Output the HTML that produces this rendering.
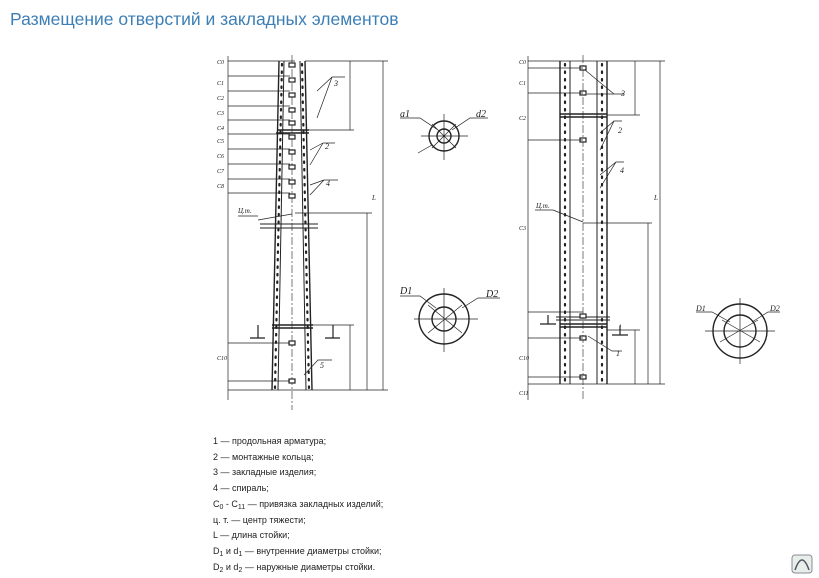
<!DOCTYPE html>
<html><head><meta charset="utf-8"><style>
body{margin:0;background:#fff;width:819px;height:578px;overflow:hidden;position:relative;font-family:"Liberation Sans",sans-serif}
.t{position:absolute;left:10px;top:9px;font-size:17.5px;color:#3d7fb5}
.leg{position:absolute;left:213px;top:434px;font-size:9px;color:#222;line-height:15.7px}
sub{font-size:7px;vertical-align:-2px;line-height:0}
svg{position:absolute;left:0;top:0}
</style></head><body>
<div class="t">Размещение отверстий и закладных элементов</div>
<div class="leg">1 — продольная арматура;<br>2 — монтажные кольца;<br>3 — закладные изделия;<br>4 — спираль;<br>С<sub>0</sub> - С<sub>11</sub> — привязка закладных изделий;<br>ц. т. — центр тяжести;<br>L — длина стойки;<br>D<sub>1</sub> и d<sub>1</sub> — внутренние диаметры стойки;<br>D<sub>2</sub> и d<sub>2</sub> — наружные диаметры стойки.</div>
<svg width="819" height="578" viewBox="0 0 819 578" fill="none" stroke="#222" stroke-width="1" font-family="Liberation Serif" font-style="italic" font-size="8">
<!-- LEFT POLE -->
<g stroke-width="1.4">
<path d="M279 61 L272 390 M305 61 L312 390"/>
<path d="M284 61 L278 390 M300 61 L306 390" stroke-width="1"/>
</g>
<g stroke-width="2.2" stroke-dasharray="1.5 6" stroke-linecap="round">
<path d="M282 64 L275 388 M302 64 L309 388"/>
</g>
<path d="M292 55 L292 410" stroke-width="0.6" stroke-dasharray="8 2 2 2"/>
<path d="M277 130 H309 M276 133 H309 M272 325 H313 M272 328 H313" stroke-width="1.4"/>
<path d="M260 224 H318 M260 228 H318" stroke-width="1"/>
<g fill="#fff" stroke-width="1.2">
<rect x="289" y="63" width="6" height="4"/><rect x="289" y="78" width="6" height="4"/><rect x="289" y="93" width="6" height="4"/><rect x="289" y="108" width="6" height="4"/><rect x="289" y="121" width="6" height="4"/>
<rect x="289" y="135" width="6" height="4"/><rect x="289" y="150" width="6" height="4"/><rect x="289" y="165" width="6" height="4"/><rect x="289" y="180" width="6" height="4"/><rect x="289" y="194" width="6" height="4"/>
<rect x="289" y="341" width="6" height="4"/><rect x="289" y="379" width="6" height="4"/>
</g>
<g stroke-width="0.7">
<path d="M228 61 H295 M228 76 H290 M228 91 H290 M228 106 H290 M228 120 H290 M228 134 H290 M228 149 H290 M228 164 H290 M228 179 H290 M228 193 H290 M228 343 H290 M228 381 H290 M228 390 H312"/>
<path d="M228 56 V400"/>
<path d="M305 61 H388 M305 130 H354 M350 61 V130 M295 213 H372 M367 213 V390 M383 61 V390 M312 325 H354 M350 325 V390 M312 390 H388"/>
<path d="M317 91 L332 77 M317 118 L332 77 M332 77 H345 M310 150 L323 143 M310 165 L323 143 M323 143 H335 M310 185 L324 180 M310 195 L324 180 M324 180 H338 M304 375 L318 360 H332 M258 220 L292 214 M238 216 H258"/>
<path d="M250 338 H265 M258 325 V338 M325 338 H340 M333 325 V338" stroke-width="1.2"/>
</g>
<g fill="#222" stroke="none">
<text x="334" y="86">3</text><text x="325" y="149">2</text><text x="326" y="186">4</text><text x="320" y="368">5</text>
<text x="238" y="213" font-size="7">Ц.т.</text>
<text x="372" y="200" font-size="7">L</text>
<text x="217" y="64" font-size="6">C0</text><text x="217" y="85" font-size="6">C1</text><text x="217" y="100" font-size="6">C2</text><text x="217" y="115" font-size="6">C3</text><text x="217" y="130" font-size="6">C4</text><text x="217" y="143" font-size="6">C5</text><text x="217" y="158" font-size="6">C6</text><text x="217" y="173" font-size="6">C7</text><text x="217" y="188" font-size="6">C8</text><text x="217" y="360" font-size="6">C10</text>
</g>
<!-- SMALL CIRCLES -->
<g stroke-width="1.4">
<circle cx="444" cy="136" r="15"/><circle cx="444" cy="136" r="7"/>
<circle cx="444" cy="319" r="25"/><circle cx="444" cy="319" r="12"/>
<circle cx="740" cy="331" r="27"/><circle cx="740" cy="331" r="16"/>
</g>
<g stroke-width="0.7">
<path d="M444 114 V160 M421 136 H468 M432 124 L456 148 M456 124 L432 148 M400 118 H420 L438 130 M488 118 H470 L452 130 M418 153 L432 145"/>
<path d="M444 288 V352 M414 319 H478 M428 305 L462 333 M462 305 L428 333 M400 296 H420 L436 308 M500 298 H478 L462 308"/>
<path d="M740 298 V364 M705 331 H775 M722 320 L760 342 M758 320 L720 342 M696 312 H712 L730 322 M780 312 H768 L752 322"/>
</g>
<g fill="#222" stroke="none" font-size="10">
<text x="400" y="117">a1</text><text x="476" y="117">d2</text>
<text x="400" y="294">D1</text><text x="486" y="297">D2</text>
<text x="696" y="311" font-size="8">D1</text><text x="770" y="311" font-size="8">D2</text>
</g>
<!-- RIGHT POLE -->
<g stroke-width="1.4"><path d="M560 61 V384 M607 61 V384"/></g>
<path d="M570 61 V384 M597 61 V384" stroke-width="1"/>
<g stroke-width="2.2" stroke-dasharray="1.5 6" stroke-linecap="round"><path d="M565 64 V382 M602 64 V382"/></g>
<path d="M583 55 V400" stroke-width="0.6" stroke-dasharray="8 2 2 2"/>
<path d="M560 114 H607 M560 117 H607 M560 324 H607 M560 327 H607" stroke-width="1.4"/>
<path d="M556 317 H610 M556 320 H610" stroke-width="1"/>
<g fill="#fff" stroke-width="1.2">
<rect x="580" y="66" width="6" height="4"/><rect x="580" y="91" width="6" height="4"/><rect x="580" y="138" width="6" height="4"/><rect x="580" y="314" width="6" height="4"/><rect x="580" y="336" width="6" height="4"/><rect x="580" y="375" width="6" height="4"/>
</g>
<g stroke-width="0.7">
<path d="M528 61 H665 M528 68 H583 M528 93 H583 M528 140 H583 M528 312 H583 M528 338 H583 M528 377 H583 M528 384 H665 M528 56 V400"/>
<path d="M607 115 H640 M635 61 V115 M583 223 H652 M648 223 V384 M660 61 V384 M607 330 H640 M635 330 V384"/>
<path d="M585 70 L614 94 M587 94 L614 94 H624 M600 133 L614 121 M600 150 L614 121 H622 M600 175 L616 162 M600 188 L616 162 H624 M553 210 L583 222 M535 210 H553 M588 336 L612 351 H622"/>
<path d="M540 324 H556 M548 315 V324 M612 335 H628 M620 326 V335" stroke-width="1.2"/>
</g>
<g fill="#222" stroke="none">
<text x="621" y="96">3</text><text x="618" y="133">2</text><text x="620" y="173">4</text><text x="616" y="356">1</text><text x="618" y="330">1</text>
<text x="536" y="208" font-size="7">Ц.т.</text><text x="654" y="200" font-size="7">L</text>
<text x="519" y="64" font-size="6">C0</text><text x="519" y="85" font-size="6">C1</text><text x="519" y="120" font-size="6">C2</text><text x="519" y="230" font-size="6">C3</text><text x="519" y="360" font-size="6">C10</text><text x="519" y="395" font-size="6">C11</text>
</g>
<!-- logo -->
<rect x="792" y="555" width="20" height="18" rx="3" fill="#e8eee8" stroke="#889"/>
<path d="M795 570 Q802 550 809 570" stroke="#556" stroke-width="1.5"/>
</svg>
</body></html>
